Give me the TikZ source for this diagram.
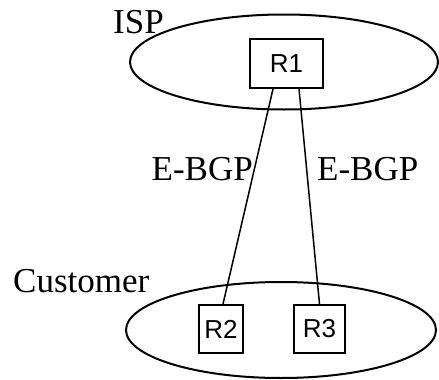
\documentclass[tikz,border=0pt]{standalone}
\usepackage{fontspec}
\setmainfont{Liberation Serif}
\newfontfamily\routerfont{Liberation Sans}
\usetikzlibrary{shapes.geometric}
\tikzset{
  as region/.style={draw, ellipse, line width=2pt, inner sep=0pt},
  router/.style={draw, rectangle, line width=2pt, inner sep=0pt,
    font=\routerfont\fontsize{26}{26}\selectfont},
  session/.style={line width=1.5pt},
  tag/.style={inner sep=0pt, font=\fontsize{35}{35}\selectfont}
}

\begin{document}
\begin{tikzpicture}[x=1pt,y=-1pt]
\useasboundingbox (0,0) rectangle (439,380);

% Draw the two autonomous systems
\node[as region, minimum width=308, minimum height=95] (isp) at (284,62) {};
\node[as region, minimum width=310, minimum height=96] (cust) at (281,330) {};

% Draw the routers
\node[router, minimum width=73, minimum height=49] (r1) at (286.5,63.5) {R1};
\node[router, minimum width=44, minimum height=48] (r2) at (221,329) {R2};
\node[router, minimum width=51, minimum height=48] (r3) at (319.5,329) {R3};

% Draw the E-BGP sessions
\draw[session] ([xshift=-13.5pt]r1.south) -- ([xshift=2pt]r2.north);
\draw[session] ([xshift=12.5pt]r1.south) -- (r3.north);

% Label the sessions and the regions
\node[tag, anchor=base east] (bgpl) at (253,180) {E-BGP};
\node[tag, anchor=base west] (bgpr) at (317,180) {E-BGP};
\node[tag, anchor=base west] (ispname) at (113,33) {ISP};
\node[tag, anchor=base west] (custname) at (13,292) {Customer};

\end{tikzpicture}
\end{document}
